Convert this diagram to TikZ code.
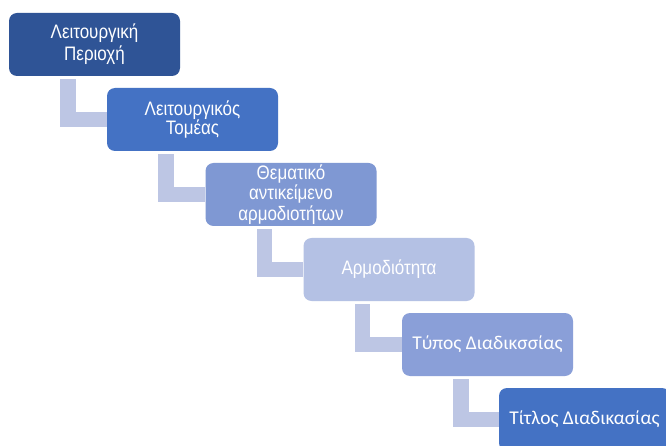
\documentclass[tikz,border=0pt]{standalone}
\usepackage{fontspec}
\setmainfont{Liberation Sans}
\newfontfamily\narrowfont[FakeStretch=0.87]{Liberation Sans}
\newfontfamily\calfont{Carlito}
\definecolor{cA}{HTML}{2F5496}
\definecolor{cB}{HTML}{4472C4}
\definecolor{cC}{HTML}{7F98D3}
\definecolor{cD}{HTML}{B4C1E4}
\definecolor{cE}{HTML}{8A9FD8}
\definecolor{cConn}{HTML}{BDC6E4}
\tikzset{
  box/.style={rounded corners=8pt, minimum width=171pt, minimum height=63pt,
    inner sep=0pt, align=center, text=white},
  narrowtext/.style={font=\narrowfont\fontsize{19.5}{#1}\selectfont},
  caltext/.style={font=\calfont\fontsize{19.5}{21}\selectfont},
  conn/.style={draw=cConn, line width=15.5pt, line cap=butt, line join=miter}
}
\begin{document}
\begin{tikzpicture}[x=1pt,y=-1pt]
\clip (0,0) rectangle (666,446);
\fill[white] (0,0) rectangle (666,446);
\node[box, fill=cA, narrowtext=22] (b1) at (94.5,44.5) {Λειτουργική\\Περιοχή};
\node[box, fill=cB, narrowtext=18.5] (b2) at (192.5,119.5) {Λειτουργικός\\Τομέας};
\node[box, fill=cC, narrowtext=20.5] (b3) at (291,194.5) {Θεματικό\\αντικείμενο\\αρμοδιοτήτων};
\node[box, fill=cD, narrowtext=21] (b4) at (389,269.5) {Αρμοδιότητα};
\node[box, fill=cE, caltext] (b5) at (487.5,344.5) {Τύπος Διαδικσσίας};
\node[box, fill=cB, caltext] (b6) at (584.5,419.5) {Τίτλος Διαδικασίας};
\draw[conn] ([xshift=59pt,yshift=-3pt]b1.south west) |- (b2.west);
\draw[conn] ([xshift=59pt,yshift=-3pt]b2.south west) |- (b3.west);
\draw[conn] ([xshift=59pt,yshift=-3pt]b3.south west) |- (b4.west);
\draw[conn] ([xshift=59pt,yshift=-3pt]b4.south west) |- (b5.west);
\draw[conn] ([xshift=59pt,yshift=-3pt]b5.south west) |- (b6.west);
\end{tikzpicture}
\end{document}
